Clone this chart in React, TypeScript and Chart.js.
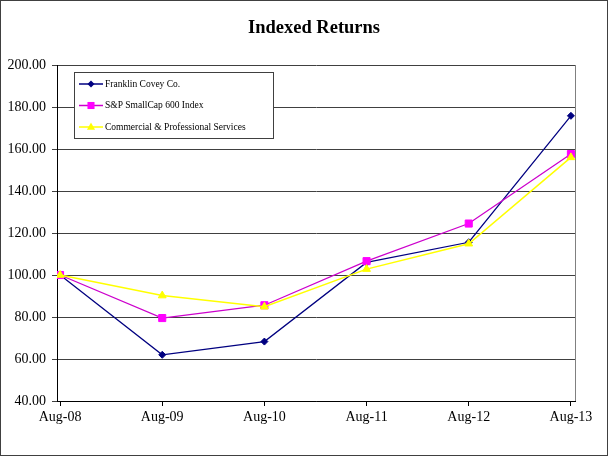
import React, { useEffect, useRef } from "react";
import { Chart, registerables } from "chart.js";

Chart.register(...registerables);

const categories = ["Aug-08", "Aug-09", "Aug-10", "Aug-11", "Aug-12", "Aug-13"];
const franklin = [100, 62.0, 68.3, 106.0, 115.6, 175.8];
const smallCap = [100, 79.5, 85.6, 106.6, 124.5, 157.6];
const services = [100, 90.2, 84.9, 102.8, 114.9, 156.0];
const seriesNames = [
  "Franklin Covey Co.",
  "S&P SmallCap 600 Index",
  "Commercial & Professional Services",
];
const yTicks = [40, 60, 80, 100, 120, 140, 160, 180, 200];
const titleText = "Indexed Returns";

const SERIF = '"Liberation Serif", "Times New Roman", serif';

function drawMarker(ctx: CanvasRenderingContext2D, style: string, x: number, y: number, r: number, color: string) {
  ctx.save();
  ctx.fillStyle = color;
  ctx.beginPath();
  if (style === "rectRot") {
    ctx.moveTo(x, y - r);
    ctx.lineTo(x + r, y);
    ctx.lineTo(x, y + r);
    ctx.lineTo(x - r, y);
  } else if (style === "rect") {
    const s = r * Math.SQRT1_2;
    ctx.rect(x - s, y - s, 2 * s, 2 * s);
  } else {
    ctx.moveTo(x, y - r);
    ctx.lineTo(x + r * 0.9, y + r * 0.6);
    ctx.lineTo(x - r * 0.9, y + r * 0.6);
  }
  ctx.closePath();
  ctx.fill();
  ctx.restore();
}

const decorPlugin = {
  id: "decor",
  beforeDraw(chart: any) {
    const ctx = chart.ctx as CanvasRenderingContext2D;
    ctx.save();
    ctx.fillStyle = "#ffffff";
    ctx.fillRect(0, 0, chart.width, chart.height);
    ctx.restore();
  },
  afterDraw(chart: any) {
    const ctx = chart.ctx as CanvasRenderingContext2D;
    const a = chart.chartArea;
    ctx.save();
    // outer frame
    ctx.strokeStyle = "#404040";
    ctx.lineWidth = 1;
    ctx.strokeRect(0.5, 0.5, chart.width - 1, chart.height - 1);
    // plot frame right
    ctx.strokeStyle = "#808080";
    ctx.beginPath();
    ctx.moveTo(Math.round(a.right) + 0.5, Math.round(a.top));
    ctx.lineTo(Math.round(a.right) + 0.5, Math.round(a.bottom));
    ctx.stroke();
    // title
    ctx.fillStyle = "#000";
    ctx.font = `bold 18.5px ${SERIF}`;
    ctx.textAlign = "center";
    ctx.textBaseline = "middle";
    ctx.fillText(titleText, 314, 28);
    // legend
    const lx = 74, ly = 72, lw = 199, lh = 66;
    ctx.fillStyle = "#fff";
    ctx.fillRect(lx, ly, lw, lh);
    ctx.strokeStyle = "#404040";
    ctx.strokeRect(lx + 0.5, ly + 0.5, lw, lh);
    const rows = [84, 105.5, 127];
    chart.data.datasets.forEach((ds: any, i: number) => {
      const y = rows[i];
      ctx.strokeStyle = ds.borderColor;
      ctx.lineWidth = 1.5;
      ctx.beginPath();
      ctx.moveTo(79, y);
      ctx.lineTo(103, y);
      ctx.stroke();
      drawMarker(ctx, ds.pointStyle, 91, y, ds.pointRadius, ds.pointBackgroundColor);
      ctx.fillStyle = "#000";
      ctx.font = `9.5px ${SERIF}`;
      ctx.textAlign = "left";
      ctx.textBaseline = "middle";
      ctx.fillText(ds.label, 105, y);
    });
    ctx.restore();
  },
};

export default function App() {
  const ref = useRef<HTMLCanvasElement | null>(null);

  useEffect(() => {
    if (!ref.current) return;
    const toXY = (arr: number[]) => arr.map((v, i) => ({ x: i, y: v }));
    const chart = new Chart(ref.current, {
      type: "line",
      data: {
        datasets: [
          {
            label: seriesNames[0],
            data: toXY(franklin),
            borderColor: "#000080",
            backgroundColor: "#000080",
            pointBackgroundColor: "#000080",
            pointBorderColor: "#000080",
            pointStyle: "rectRot",
            pointRadius: 3.5,
            pointBorderWidth: 1,
            borderWidth: 1.25,
            order: 2,
          },
          {
            label: seriesNames[1],
            data: toXY(smallCap),
            borderColor: "#CC00CC",
            backgroundColor: "#FF00FF",
            pointBackgroundColor: "#FF00FF",
            pointBorderColor: "#FF00FF",
            pointStyle: "rect",
            pointRadius: 5,
            pointBorderWidth: 1,
            borderWidth: 1.25,
            order: 1,
          },
          {
            label: seriesNames[2],
            data: toXY(services),
            borderColor: "#FFFF00",
            backgroundColor: "#FFFF00",
            pointBackgroundColor: "#FFFF00",
            pointBorderColor: "#FFFF00",
            pointStyle: "triangle",
            pointRadius: 4.5,
            pointBorderWidth: 1,
            borderWidth: 1.5,
            order: 0,
          },
        ],
      } as any,
      options: {
        animation: false,
        responsive: false,
        devicePixelRatio: 1,
        layout: { padding: { top: 65, right: 33, left: 0, bottom: 0 } },
        plugins: {
          legend: { display: false },
          title: { display: false },
          tooltip: { enabled: false },
        },
        scales: {
          x: {
            type: "linear",
            min: -0.03,
            max: categories.length - 1 + 0.04,
            afterBuildTicks: (scale: any) => {
              scale.ticks = categories.map((_, i) => ({ value: i }));
            },
            afterFit: (scale: any) => {
              scale.height = 55;
            },
            ticks: {
              autoSkip: false,
              maxRotation: 0,
              color: "#000",
              font: { family: SERIF, size: 14 },
              padding: 3,
              callback: (v: any) => categories[Math.round(Number(v))] ?? "",
            },
            grid: {
              drawOnChartArea: false,
              drawTicks: true,
              tickLength: 5,
              color: "#000",
            },
            border: { color: "#000", width: 1 },
          },
          y: {
            min: yTicks[0],
            max: yTicks[yTicks.length - 1],
            afterBuildTicks: (scale: any) => {
              scale.ticks = yTicks.map((v) => ({ value: v }));
            },
            afterFit: (scale: any) => {
              scale.width = 57;
            },
            ticks: {
              color: "#000",
              font: { family: SERIF, size: 14 },
              padding: 6,
              callback: (v: any) => Number(v).toFixed(2),
            },
            grid: {
              color: "#404040",
              lineWidth: 1,
              tickLength: 5,
            },
            border: { color: "#000", width: 1 },
          },
        },
      } as any,
      plugins: [decorPlugin],
    });
    return () => chart.destroy();
  }, []);

  return (
    <div style={{ position: "fixed", left: 0, top: 0, width: 608, height: 456, background: "#fff" }}>
      <canvas ref={ref} width={608} height={456} style={{ display: "block", width: 608, height: 456 }} />
    </div>
  );
}
